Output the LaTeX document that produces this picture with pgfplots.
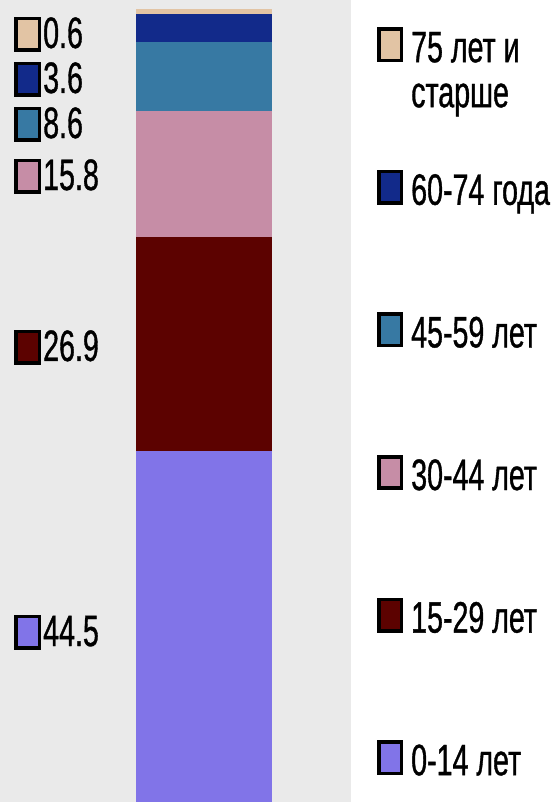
\documentclass[border=0pt]{standalone}
\usepackage{pgfplots}
\pgfplotsset{compat=1.18}
\usepackage{fontspec}
\setmainfont{Liberation Sans}[FakeStretch=0.65,FakeBold=0.8]

\definecolor{bg}{HTML}{EAEAEA}
\definecolor{cA}{HTML}{8174E8}  % 0-14
\definecolor{cB}{HTML}{5C0200}  % 15-29
\definecolor{cC}{HTML}{C68DA6}  % 30-44
\definecolor{cD}{HTML}{3779A3}  % 45-59
\definecolor{cE}{HTML}{122A8A}  % 60-74
\definecolor{cF}{HTML}{E2C4A4}  % 75+

% small colour key in front of a data label
\newcommand\key[1]{{\setlength\fboxsep{0pt}\setlength\fboxrule{3.6pt}%
  \fcolorbox{black}{#1}{\rule{19.8pt}{0pt}\rule{0pt}{27.8pt}}}}
\newcommand\lab[2]{\key{#1}\hspace{2pt}#2}

\begin{document}
\fontsize{44}{45}\selectfont
\begin{tikzpicture}
\useasboundingbox (0,0) rectangle (558pt,802pt);
\begin{axis}[
    at={(0,0)}, anchor=south west,
    scale only axis,
    width=351pt, height=802pt,
    xmin=0, xmax=351,
    ymin=0.38, ymax=101.13,
    ybar stacked,
    bar width=136pt,
    axis background/.style={fill=bg},
    axis line style={draw=none},
    xtick=\empty, ytick=\empty,
    reverse legend,
    legend cell align=left,
    legend style={
        at={(axis description cs:1.0741,0.96633)}, anchor=north west,
        draw=none, fill=none, inner sep=0pt,
        row sep=98.6pt, column sep=8pt,
        nodes={inner sep=0pt, anchor=base west, text height=35pt, text depth=9pt}
    },
    legend image code/.code={
        \draw[#1,draw=black,line width=3.6pt] (1.8pt,1.8pt) rectangle (24.2pt,33.2pt);
    },
]
\addplot[fill=cA, draw=none] coordinates {(204,44.5)};
\addplot[fill=cB, draw=none] coordinates {(204,26.9)};
\addplot[fill=cC, draw=none] coordinates {(204,15.8)};
\addplot[fill=cD, draw=none] coordinates {(204,8.6)};
\addplot[fill=cE, draw=none] coordinates {(204,3.6)};
\addplot[fill=cF, draw=none] coordinates {(204,0.6)};
\legend{0-14 лет, 15-29 лет, 30-44 лет, 45-59 лет, 60-74 года,
    {\begin{tabular}[t]{@{}l@{}}75 лет и\\старше\end{tabular}}}

% data labels, pushed apart as in the original
\node[anchor=base west, inner sep=0pt] at (axis cs:14,95.10) {\lab{cF}{0.6}};
\node[anchor=base west, inner sep=0pt] at (axis cs:14,89.45) {\lab{cE}{3.6}};
\node[anchor=base west, inner sep=0pt] at (axis cs:14,83.79) {\lab{cD}{8.6}};
\node[anchor=base west, inner sep=0pt] at (axis cs:14,77.26) {\lab{cC}{15.8}};
\node[anchor=base west, inner sep=0pt] at (axis cs:14,55.78) {\lab{cB}{26.9}};
\node[anchor=base west, inner sep=0pt] at (axis cs:14,19.97) {\lab{cA}{44.5}};
\end{axis}
\end{tikzpicture}
\end{document}
